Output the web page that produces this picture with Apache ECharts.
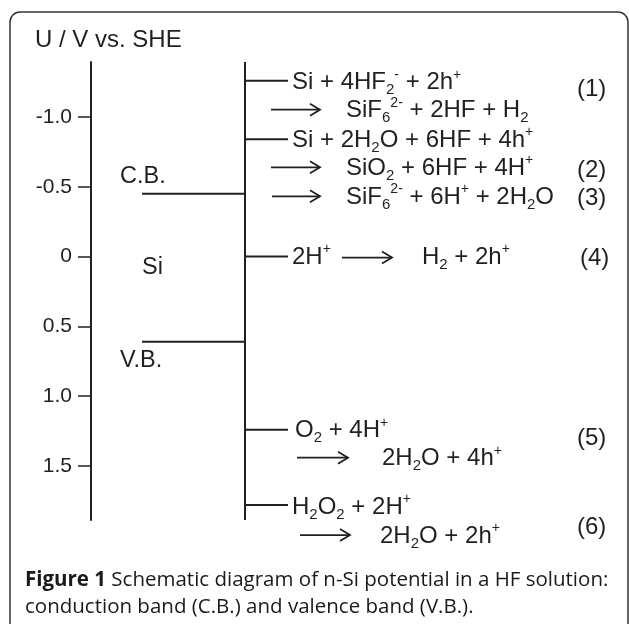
<!DOCTYPE html>
<html>
<head>
<meta charset="utf-8">
<script src="https://cdn.jsdelivr.net/npm/echarts@6/dist/echarts.min.js"></script>
<style>
  html, body { margin: 0; padding: 0; background: #fff; }
  #chart { width: 629px; height: 624px; }
</style>
</head>
<body>
<div id="chart"></div>
<script>
// potential axis (V vs. SHE)
const tickValues = [-1.0, -0.5, 0, 0.5, 1.0, 1.5];
const tickLabels = ['-1.0', '-0.5', '0', '0.5', '1.0', '1.5'];

// silicon band edges
const bandNames = ['C.B.', 'V.B.'];
const bandEdges = [-0.45, 0.61];

// redox levels on the solution side
const reactionPotentials = [-1.26, -0.84, 0, 1.24, 1.78];
const reactionText = [
  ['Si + 4HF{sub|2}{sup|-} + 2h{sup|+}', 'SiF{sub|6}{sup|2-} + 2HF + H{sub|2}'],
  ['Si + 2H{sub|2}O + 6HF + 4h{sup|+}', 'SiO{sub|2} + 6HF + 4H{sup|+}', 'SiF{sub|6}{sup|2-} + 6H{sup|+} + 2H{sub|2}O'],
  ['2H{sup|+}', 'H{sub|2} + 2h{sup|+}'],
  ['O{sub|2} + 4H{sup|+}', '2H{sub|2}O + 4h{sup|+}'],
  ['H{sub|2}O{sub|2} + 2H{sup|+}', '2H{sub|2}O + 2h{sup|+}']
];
const reactionNumbers = [['(1)'], ['(2)', '(3)'], ['(4)'], ['(5)'], ['(6)']];

const yMin = -1.394, yMax = 1.887;
const xBandStart = 51, xSolution = 154, xBranchEnd = 197;

const ink = '#231f20';
const font = 'Liberation Sans, Arial, sans-serif';
const capFont = 'Open Sans, sans-serif';

// layout of the text next to each level: [x px, dy px from level]
const textPlace = [
  [[292, 2], [346, 30]],
  [[292, 1], [346, 29], [346, 58]],
  [[292, 1], [422, 1]],
  [[295, 1], [382, 29]],
  [[292, 2], [380, 31]]
];
const arrowPlace = [
  [[271, 320, 29]],
  [[271, 320, 28], [272, 320, 57]],
  [[342, 392, 1]],
  [[297, 348, 28]],
  [[300, 350, 30]]
];
const numberPlace = [
  [[577, 9]], [[577, 31], [577, 59]], [[580, 2]], [[577, 9]], [[577, 22]]
];

const chart = echarts.init(document.getElementById('chart'));

const segments = [];
bandEdges.forEach(v => segments.push([[xBandStart, v], [xSolution, v]]));
segments.push([[xSolution, yMin], [xSolution, yMax]]);
reactionPotentials.forEach(v => segments.push([[xSolution, v], [xBranchEnd, v]]));

const option = {
  backgroundColor: '#fff',
  animation: false,
  grid: { left: 91, right: 38, top: 62, bottom: 104 },
  xAxis: { type: 'value', min: 0, max: 500, show: false },
  yAxis: {
    type: 'value',
    inverse: true,
    min: yMin,
    max: yMax,
    axisLine: { show: true, lineStyle: { color: ink, width: 2 } },
    axisTick: {
      show: true,
      customValues: tickValues,
      length: 13,
      lineStyle: { color: ink, width: 1.5 }
    },
    axisLabel: {
      customValues: tickValues,
      margin: 19,
      fontSize: 21,
      fontFamily: font,
      color: ink,
      formatter: v => {
        const i = tickValues.findIndex(t => Math.abs(t - v) < 1e-9);
        return i >= 0 ? tickLabels[i] : '';
      }
    },
    splitLine: { show: false }
  },
  series: segments.map(d => ({
    type: 'line',
    data: d,
    symbol: 'none',
    silent: true,
    clip: false,
    lineStyle: { color: ink, width: 2 }
  }))
};
chart.setOption(option);

const rich = {
  sub: { fontSize: 15, fontFamily: font, lineHeight: 15, verticalAlign: 'bottom', fill: ink, color: ink },
  sup: { fontSize: 14, fontFamily: font, lineHeight: 20, verticalAlign: 'top', fill: ink, color: ink },
  b: { fontWeight: 'bold', fontSize: 20.5, fontFamily: capFont, fill: '#1a1a1a', color: '#1a1a1a' }
};

function txt(text, x, y, size, family, color) {
  return {
    type: 'text',
    x: x,
    y: y,
    silent: true,
    style: {
      text: text,
      fontSize: size,
      fontFamily: family || font,
      fill: color || ink,
      lineHeight: 30,
      rich: rich,
      align: 'left',
      verticalAlign: 'middle',
      textAlign: 'left',
      textVerticalAlign: 'middle'
    }
  };
}

function arrow(x1, x2, y) {
  return {
    type: 'group',
    silent: true,
    children: [
      { type: 'line', shape: { x1: x1, y1: y, x2: x2, y2: y }, style: { stroke: ink, lineWidth: 1.8 } },
      { type: 'polyline', shape: { points: [[x2 - 10, y - 6], [x2, y], [x2 - 10, y + 6]] }, style: { stroke: ink, lineWidth: 1.8, fill: null } }
    ]
  };
}

const py = v => chart.convertToPixel({ gridIndex: 0 }, [0, v])[1];

const graphics = [];
graphics.push({
  type: 'rect', silent: true,
  shape: { x: 10, y: 12, width: 618, height: 700, r: 10 },
  style: { fill: null, stroke: '#333', lineWidth: 1.5 }
});
graphics.push(txt('U / V vs. SHE', 35, 40, 24));

bandNames.forEach((name, i) => {
  const y = py(bandEdges[i]);
  graphics.push(txt(name, 120, i === 0 ? y - 17 : y + 19, 23.5));
});
graphics.push(txt('Si', 142, py((bandEdges[0] + bandEdges[1]) / 2), 23.5));

reactionPotentials.forEach((v, i) => {
  const y = py(v);
  reactionText[i].forEach((t, j) => {
    const [x, dy] = textPlace[i][j];
    graphics.push(txt(t, x, y + dy, 24));
  });
  arrowPlace[i].forEach(([x1, x2, dy]) => graphics.push(arrow(x1, x2, y + dy)));
  reactionNumbers[i].forEach((n, j) => {
    const [x, dy] = numberPlace[i][j];
    graphics.push(txt(n, x, y + dy, 24));
  });
});

graphics.push(txt('{b|Figure 1} Schematic diagram of n-Si potential in a HF solution:', 25, 580, 20.5, capFont, '#1a1a1a'));
graphics.push(txt('conduction band (C.B.) and valence band (V.B.).', 25, 607, 20.5, capFont, '#1a1a1a'));

chart.setOption({ graphic: graphics });
</script>
</body>
</html>
